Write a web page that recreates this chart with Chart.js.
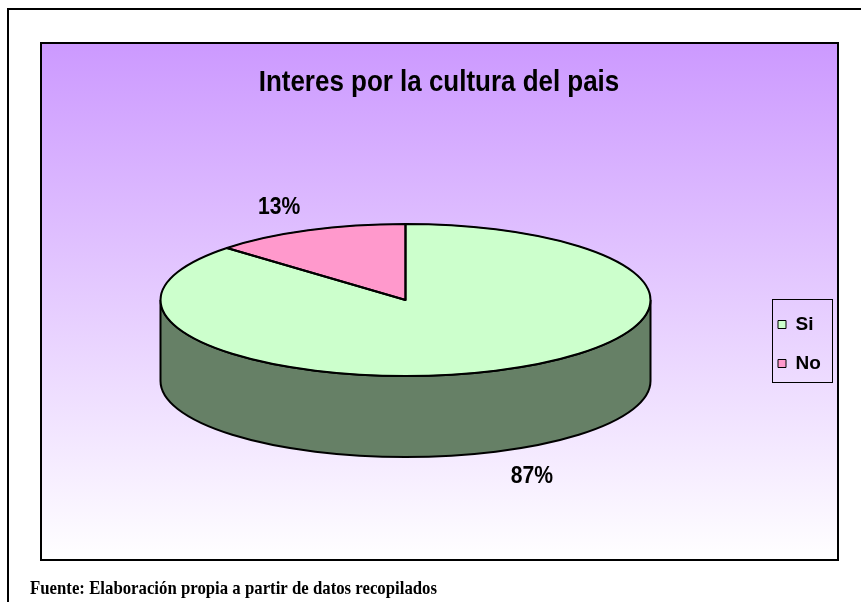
<!DOCTYPE html>
<html>
<head>
<meta charset="utf-8">
<script src="https://cdn.jsdelivr.net/npm/chart.js@4/dist/chart.umd.min.js"></script>
<style>
  html, body { margin: 0; padding: 0; background: #fff; }
  canvas { display: block; }
</style>
</head>
<body>
<canvas id="chart" width="861" height="602"></canvas>
<script>
// Survey answers and their share of responses (%)
const categories = ['Si', 'No'];
const shares = [87, 13];
const sliceColors = ['#CCFFCC', '#FF99CC'];
const wallColors = ['#668066', '#804D66'];
const chartTitle = 'Interes por la cultura del pais';
const sourceNote = 'Fuente: Elaboración propia a partir de datos recopilados';

// Disc geometry: vertical squash of the top face and thickness of the side wall
const TILT = 76 / 245;
const DEPTH = 81;
const SANS = "'Liberation Sans', Arial, sans-serif";
const SERIF = "'Liberation Serif', 'Times New Roman', serif";
// Headline and value labels use a condensed look
const TITLE_SQUEEZE = 0.865;
const LABEL_SQUEEZE = 0.88;

function squeezedText(ctx, text, x, y, squeeze) {
  ctx.save();
  ctx.translate(x, y);
  ctx.scale(squeeze, 1);
  ctx.fillText(text, 0, 0);
  ctx.restore();
}

const pie3d = {
  id: 'pie3d',
  afterInit(chart) {
    // draw the library's title block horizontally condensed around its centre
    const block = chart.titleBlock;
    if (!block) return;
    const baseDraw = block.draw.bind(block);
    block.draw = function (area) {
      const ctx = chart.ctx;
      const cx = (block.left + block.right) / 2;
      ctx.save();
      ctx.translate(cx, 0);
      ctx.scale(TITLE_SQUEEZE, 1);
      ctx.translate(-cx, 0);
      baseDraw(area);
      ctx.restore();
    };
  },
  beforeDraw(chart) {
    const ctx = chart.ctx;
    ctx.save();
    ctx.fillStyle = '#fff';
    ctx.fillRect(0, 0, chart.width, chart.height);
    // outer frame
    ctx.fillStyle = '#000';
    ctx.fillRect(7, 8, 2, chart.height - 8);
    ctx.fillRect(7, 8, chart.width - 7, 2);
    // plot panel with lilac gradient
    const g = ctx.createLinearGradient(0, 42, 0, 561);
    g.addColorStop(0, '#CC99FF');
    g.addColorStop(1, '#FFFFFF');
    ctx.fillStyle = g;
    ctx.fillRect(40, 42, 799, 519);
    ctx.lineWidth = 2;
    ctx.strokeStyle = '#000';
    ctx.strokeRect(41, 43, 797, 517);
    // source note
    ctx.font = 'bold 19px ' + SERIF;
    const w = ctx.measureText(sourceNote).width;
    ctx.fillStyle = '#000';
    ctx.textBaseline = 'alphabetic';
    squeezedText(ctx, sourceNote, 30, 594, 407 / w);
    ctx.restore();
  },
  beforeDatasetsDraw(chart) {
    const ctx = chart.ctx;
    const arcs = chart.getDatasetMeta(0).data;
    // side wall of the front half of the disc
    ctx.save();
    arcs.forEach((arc, i) => {
      const a0 = Math.max(arc.startAngle, 0);
      const a1 = Math.min(arc.endAngle, Math.PI);
      if (a1 <= a0) return;
      const x = arc.x, y = arc.y, r = arc.outerRadius, ry = r * TILT;
      ctx.beginPath();
      ctx.ellipse(x, y, r, ry, 0, a0, a1);
      ctx.lineTo(x + r * Math.cos(a1), y + ry * Math.sin(a1) + DEPTH);
      ctx.ellipse(x, y + DEPTH, r, ry, 0, a1, a0, true);
      ctx.closePath();
      ctx.fillStyle = wallColors[i];
      ctx.fill();
      ctx.lineWidth = 2;
      ctx.strokeStyle = '#000';
      ctx.stroke();
    });
    ctx.restore();
    // the library's slices become the tilted top face
    const c = arcs[0];
    ctx.save();
    ctx.translate(c.x, c.y);
    ctx.scale(1, TILT);
    ctx.translate(-c.x, -c.y);
  },
  afterDatasetsDraw(chart) {
    const ctx = chart.ctx;
    ctx.restore();
    const arcs = chart.getDatasetMeta(0).data;
    ctx.save();
    ctx.lineWidth = 2;
    ctx.strokeStyle = '#000';
    ctx.lineJoin = 'round';
    arcs.forEach((arc) => {
      const x = arc.x, y = arc.y, r = arc.outerRadius, ry = r * TILT;
      ctx.beginPath();
      ctx.moveTo(x, y);
      ctx.lineTo(x + r * Math.cos(arc.startAngle), y + ry * Math.sin(arc.startAngle));
      ctx.ellipse(x, y, r, ry, 0, arc.startAngle, arc.endAngle);
      ctx.closePath();
      ctx.stroke();
    });
    // percentage labels outside each slice
    ctx.font = 'bold 24px ' + SANS;
    ctx.fillStyle = '#000';
    ctx.textAlign = 'center';
    ctx.textBaseline = 'middle';
    arcs.forEach((arc, i) => {
      const x = arc.x, y = arc.y, r = arc.outerRadius, ry = r * TILT;
      const mid = (arc.startAngle + arc.endAngle) / 2;
      const cs = Math.cos(mid), sn = Math.sin(mid);
      const ex = x + r * cs;
      const ey = y + ry * sn + (sn > 0 ? DEPTH : 0);
      const lx = ex + Math.sign(cs) * 29;
      const ly = ey + (sn > 0 ? 26 : -23);
      squeezedText(ctx, shares[i] + '%', lx, ly, LABEL_SQUEEZE);
    });
    ctx.restore();
  },
  afterDraw(chart) {
    // frame around the legend entries
    const boxes = chart.legend.legendHitBoxes;
    if (!boxes || !boxes.length) return;
    const ctx = chart.ctx;
    const first = boxes[0], last = boxes[boxes.length - 1];
    const left = first.left - 6, top = first.top - 16;
    const bottom = last.top + last.height + 9;
    ctx.save();
    ctx.lineWidth = 1;
    ctx.strokeStyle = '#000';
    ctx.strokeRect(left + 0.5, top + 0.5, 60, bottom - top);
    ctx.restore();
  }
};

new Chart(document.getElementById('chart'), {
  type: 'pie',
  data: {
    labels: categories,
    datasets: [{
      data: shares,
      backgroundColor: sliceColors,
      borderColor: '#000',
      borderWidth: 1,
      radius: 245,
      clip: false
    }]
  },
  options: {
    responsive: false,
    animation: false,
    events: [],
    layout: { padding: { top: 40, bottom: 209, left: 53, right: 36 } },
    plugins: {
      title: {
        display: true,
        text: chartTitle,
        color: '#000',
        align: 'center',
        font: { family: SANS, size: 30, weight: 'bold', lineHeight: 1.2 },
        padding: { top: 25, bottom: 106 }
      },
      legend: {
        position: 'right',
        fullSize: false,
        align: 'end',
        maxWidth: 67,
        labels: {
          boxWidth: 8,
          boxHeight: 8,
          padding: 20,
          color: '#000',
          font: { family: SANS, size: 19, weight: 'bold' }
        }
      },
      tooltip: { enabled: false }
    }
  },
  plugins: [pie3d]
});
</script>
</body>
</html>
